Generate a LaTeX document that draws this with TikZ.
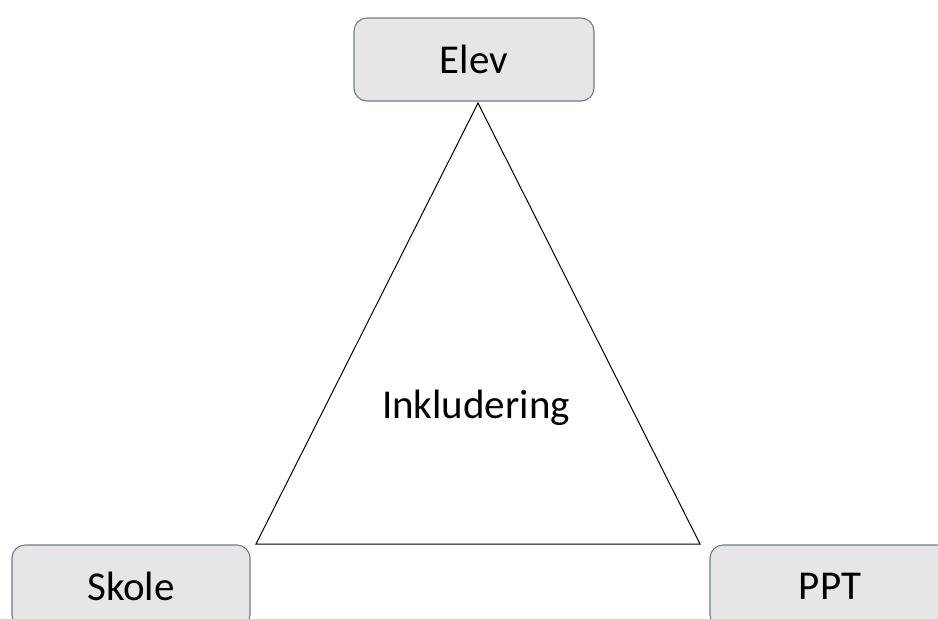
\documentclass[tikz,border=0pt]{standalone}
\usepackage{fontspec}
\setmainfont{Carlito}
\definecolor{boxgray}{HTML}{E6E6E6}
\definecolor{boxline}{HTML}{6E7B8C}

\begin{document}
\begin{tikzpicture}[x=1pt,y=-1pt,
  partbox/.style={draw=boxline,fill=boxgray,line width=1.1pt,rounded corners=13pt,
    minimum width=240pt,minimum height=83pt,font=\fontsize{41}{48}\selectfont}]
\useasboundingbox (0,0) rectangle (938,619);
\clip (0,0) rectangle (938,619);

\coordinate (top) at (478,103);
\coordinate (left) at (256,544);
\coordinate (right) at (700,544);
\draw[line width=1pt] (top) -- (left) -- (right) -- cycle;

\node[partbox] (elev) at (474,59.5) {Elev};
\node[partbox,minimum width=238pt] (skole) at (131,586.5) {Skole};
\node[partbox] (ppt) at (830,586.5) {PPT};

\node[font=\fontsize{41}{48}\selectfont] (inkl) at (476,408) {Inkludering};
\end{tikzpicture}
\end{document}
